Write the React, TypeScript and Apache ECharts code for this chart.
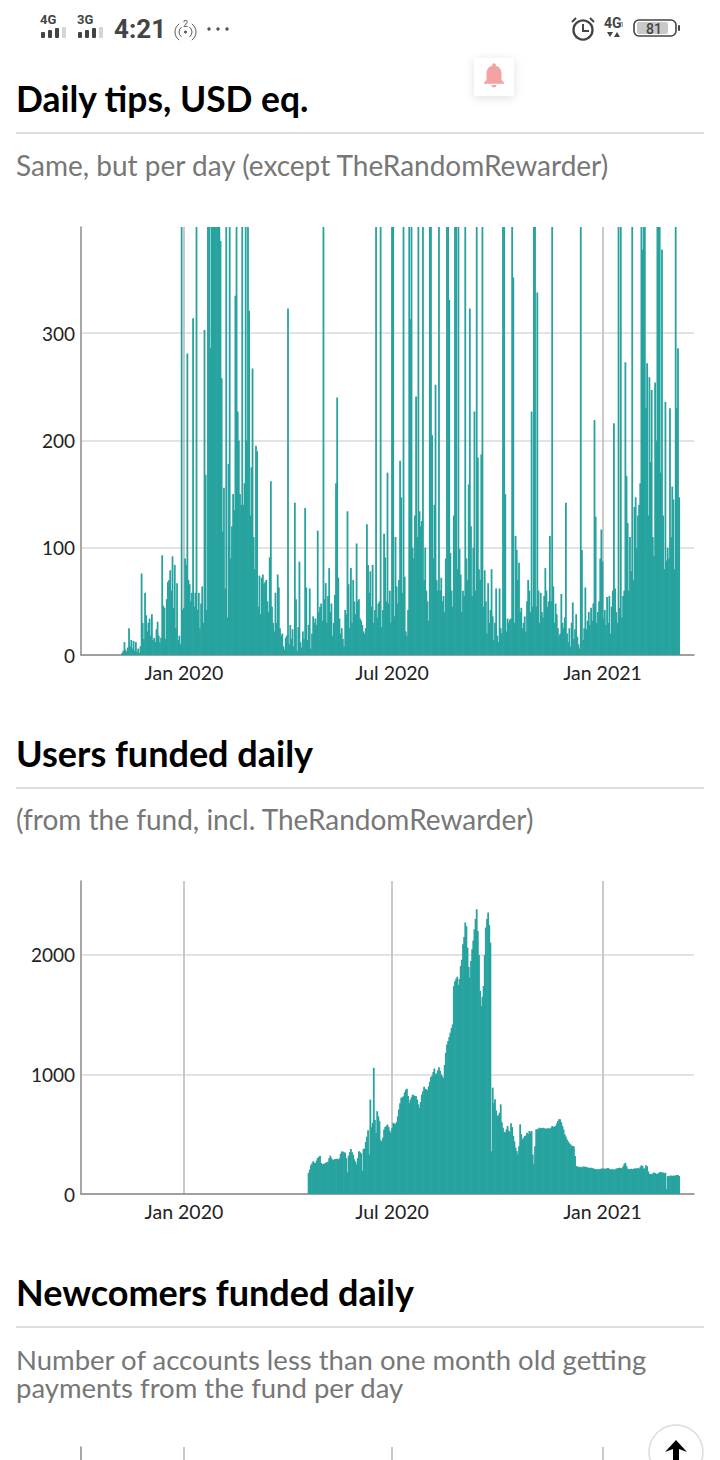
import React, { useEffect, useRef } from "react";
import * as echarts from "echarts";

const xTickDates = ["2020-01-01", "2020-07-01", "2021-01-01"];
const xTickLabels = ["Jan 2020", "Jul 2020", "Jan 2021"];
const xRange = ["2019-10-03", "2021-03-22"];
const tipsStart = "2019-11-08";
const fundedStart = "2020-04-19";

const tipsDaily = [
  2,4,12,5,3,7,25,8,14,6, 13,4,12,3,6,2,8,76,30,15, 58,37,22,30,34,18,38,14,16,12,
  24,31,18,12,16,93,46,44,15,52, 68,70,79,60,92,44,84,25,67,14, 18,10,620,42,44,90,84,281,70,66,
  50,58,314,45,58,560,42,58,25,48, 64,30,303,168,42,520,810,286,950,1300, 640,430,760,520,600,480,386,258,115,156,
  62,640,35,178,500,90,120,150,135,335, 430,227,200,150,140,620,140,160,480,200, 600,321,130,175,267,110,80,195,190,45,
  74,38,72,75,66,68,70,50,40,91, 162,45,30,22,58,30,75,63,25,18, 20,8,5,16,18,323,10,28,15,24,
  8,142,52,4,26,87,12,7,22,15, 137,63,14,28,62,6,20,36,30,34, 28,116,40,45,48,32,630,52,67,30,
  55,81,40,48,18,30,56,160,240,72, 34,20,25,15,8,42,38,134,66,25, 81,30,70,50,38,104,50,52,34,32,
  28,22,20,25,122,84,58,78,45,84, 30,42,660,35,48,50,590,26,42,113, 91,50,170,48,60,30,560,520,36,110,
  64,48,70,181,147,58,520,73,22,18, 42,560,313,450,100,90,130,241,110,610, 134,120,125,540,70,100,60,50,32,640,
  680,205,90,140,252,70,60,530,60,72, 50,55,40,90,590,620,331,95,60,45, 130,540,560,80,600,99,75,40,60,55,
  620,90,70,159,323,120,55,100,227,60, 570,184,80,70,187,650,45,79,50,20, 67,30,42,80,36,14,30,62,18,12,
  62,25,20,610,580,150,22,34,30,33, 34,600,352,30,111,98,70,86,40,44, 25,30,36,22,50,70,60,40,227,45,
  560,610,45,338,60,30,58,40,35,55, 81,60,45,50,111,50,560,64,30,48, 38,25,18,20,57,30,25,35,142,20,
  12,25,8,30,49,15,24,38,17,10, 6,620,98,14,25,63,24,32,40,28, 44,32,48,219,129,30,40,50,90,117,
  87,34,42,28,54,30,55,20,45,60, 216,62,40,30,530,44,580,35,55,60, 273,167,123,60,110,78,640,70,138,147,
  100,130,140,160,720,378,860,950,230,272, 130,259,180,247,110,92,254,200,1000,480, 700,170,378,130,80,236,88,100,90,230,
  110,157,145,80,640,230,286,147,
];

const fundedDaily = [
  176,204,240,255,274,262,260,280,302,310, 321,260,250,251,255,262,265,270,300,321,
  300,288,285,292,293,295,290,298,335,355, 355,350,345,300,181,320,350,377,350,330,
  290,270,246,300,357,350,340,195,377,380, 436,480,534,330,790,560,595,1056,620,510,
  693,650,609,450,440,470,539,560,570,581, 560,530,511,550,595,590,585,603,650,707,
  760,804,810,818,850,870,880,820,762,790, 810,832,825,820,818,790,750,720,770,832,
  860,897,880,875,869,900,940,980,990,1020, 1050,1000,1010,1035,1061,1030,1000,985,972,1080,
  1182,1250,1280,1313,1350,1390,1419,1740,1780,1800, 1818,1750,1800,1908,1960,2089,2150,2271,2240,2061,
  1900,1810,1950,2047,2120,2215,2300,2383,2201,2000, 1700,1572,1650,1740,2000,2229,2300,2355,2250,2103,
  357,890,760,792,700,653,660,680,750,600, 555,520,513,540,569,530,520,591,560,485,
  440,388,360,332,400,583,500,457,470,485, 490,513,500,527,515,527,330,248,400,541,
  541,548,555,550,552,555,550,548,545,550, 550,545,555,569,560,565,569,590,610,625,
  625,600,569,540,499,480,457,440,425,415, 405,402,398,318,234,230,229,225,228,220,
  230,228,229,225,222,220,218,220,216,214, 210,208,206,208,206,210,212,212,214,210,
  212,215,218,210,206,208,205,206,204,212, 215,218,220,218,215,230,250,262,235,212,
  208,210,212,208,210,214,215,212,218,210, 225,240,235,215,212,240,232,190,170,168,
  165,172,179,175,170,168,175,182,184,178, 180,175,178,40,150,148,152,155,150,155,
  152,156,159,158,150,
];

const BELL = "M12 22c1.1 0 2-.9 2-2h-4c0 1.1.9 2 2 2zm6-6v-5c0-3.07-1.63-5.64-4.5-6.32V4c0-.83-.67-1.5-1.5-1.5s-1.5.67-1.5 1.5v.68C7.64 5.36 6 7.92 6 11v5l-2 2v1h16v-1l-2-2z";
const UI = "Lato";
const TEAL = "#27a39f";
const DAY = 86400000;

const ms = (s: string) => Date.parse(s + "T00:00:00Z");
const toSeries = (start: string, values: number[]) => values.map((v, i) => [ms(start) + i * DAY, v]);

const title = (text: string, y: number, fontSize = 36) => ({ type: "text", x: 16, y, style: { text, fontFamily: UI, fontWeight: 700, fontSize, fill: "#000", verticalAlign: "middle" } });
const sub = (text: string, y: number, fontSize = 28) => ({ type: "text", x: 16, y, style: { text, fontFamily: UI, fontWeight: 400, fontSize, lineHeight: 28, fill: "#777", verticalAlign: "middle" } });
const rule = (y: number) => ({ type: "rect", shape: { x: 16, y: y - 1, width: 688, height: 2 }, style: { fill: "#dedede" } });

const signal = (x: number) => [0, 7, 14, 21].map((dx, i) => ({
  type: "rect",
  shape: { x: x + dx, y: 38 - [6, 8, 10, 11][i], width: 4, height: [6, 8, 10, 11][i], r: 1 },
  style: { fill: i === 3 ? "#d5d5d5" : "#444" },
}));

const hotspot = [
  { type: "arc", shape: { cx: 185, cy: 32, r: 6, startAngle: 2.2, endAngle: 4.1, clockwise: true }, style: { fill: "none", stroke: "#555", lineWidth: 1 } },
  { type: "arc", shape: { cx: 185, cy: 32, r: 10, startAngle: 2.2, endAngle: 4.1, clockwise: true }, style: { fill: "none", stroke: "#555", lineWidth: 1 } },
  { type: "arc", shape: { cx: 186, cy: 32, r: 6, startAngle: -0.95, endAngle: 0.95, clockwise: true }, style: { fill: "none", stroke: "#555", lineWidth: 1 } },
  { type: "arc", shape: { cx: 186, cy: 32, r: 10, startAngle: -0.95, endAngle: 0.95, clockwise: true }, style: { fill: "none", stroke: "#555", lineWidth: 1 } },
  { type: "circle", shape: { cx: 185.5, cy: 32, r: 1.5 }, style: { fill: "#555" } },
  { type: "text", x: 185.5, y: 24, style: { text: "2", fontFamily: "Roboto", fontSize: 9, fill: "#555", align: "center", verticalAlign: "middle" } },
];

const statusBar = [
  { type: "text", x: 40, y: 19, style: { text: "4G", fontFamily: "Roboto", fontWeight: 700, fontSize: 13, fill: "#444", verticalAlign: "middle" } },
  ...signal(41),
  { type: "text", x: 77, y: 19, style: { text: "3G", fontFamily: "Roboto", fontWeight: 700, fontSize: 13, fill: "#444", verticalAlign: "middle" } },
  ...signal(78),
  { type: "text", x: 114, y: 29, style: { text: "4:21", fontFamily: "Roboto", fontWeight: 700, fontSize: 26, fill: "#444", verticalAlign: "middle" } },
  ...hotspot,
  ...[209, 218, 227].map((cx) => ({ type: "circle", shape: { cx, cy: 29, r: 1.7 }, style: { fill: "#555" } })),
  { type: "circle", shape: { cx: 583, cy: 30, r: 9.5 }, style: { fill: "none", stroke: "#444", lineWidth: 2.4 } },
  { type: "polyline", shape: { points: [[583, 24], [583, 31], [589, 31]] }, style: { fill: "none", stroke: "#444", lineWidth: 2 } },
  { type: "line", shape: { x1: 572, y1: 22, x2: 576, y2: 18 }, style: { stroke: "#444", lineWidth: 2 } },
  { type: "line", shape: { x1: 594, y1: 22, x2: 590, y2: 18 }, style: { stroke: "#444", lineWidth: 2 } },
  { type: "text", x: 604, y: 23, style: { text: "4G", fontFamily: "Roboto", fontWeight: 700, fontSize: 14, fill: "#444", verticalAlign: "middle" } },
  { type: "text", x: 620, y: 25, style: { text: "1", fontFamily: "Roboto", fontSize: 7, fill: "#444", verticalAlign: "middle" } },
  { type: "polygon", shape: { points: [[607, 32], [613, 32], [610, 37]] }, style: { fill: "#444" } },
  { type: "polygon", shape: { points: [[614, 37], [620, 37], [617, 32]] }, style: { fill: "#444" } },
  { type: "rect", shape: { x: 634, y: 20, width: 42, height: 16, r: 5 }, style: { fill: "none", stroke: "#444", lineWidth: 1.6 } },
  { type: "rect", shape: { x: 637, y: 22, width: 31, height: 12, r: 2 }, style: { fill: "#c9c9c9" } },
  { type: "text", x: 654, y: 29, style: { text: "81", fontFamily: "Roboto", fontWeight: 500, fontSize: 14, fill: "#444", align: "center", verticalAlign: "middle" } },
  { type: "rect", shape: { x: 678, y: 25, width: 2, height: 6, r: 1 }, style: { fill: "#444" } },
];

const bellBox = [
  { type: "rect", shape: { x: 474, y: 58, width: 40, height: 38 }, style: { fill: "#fff", shadowBlur: 10, shadowColor: "rgba(0,0,0,0.12)", shadowOffsetY: 2 } },
  { type: "bell", x: 479, y: 60, scaleX: 1.25, scaleY: 1.25, style: { fill: "#f4a3a3" } },
];

const upButton = [
  { type: "circle", shape: { cx: 676, cy: 1452, r: 27 }, style: { fill: "#fff", stroke: "#dcdcdc", lineWidth: 1.5 } },
  { type: "polygon", shape: { points: [[676, 1440], [687, 1452], [679, 1449], [679, 1460], [673, 1460], [673, 1449], [665, 1452]] }, style: { fill: "#000" } },
];

const makeX = (gridIndex: number, showLabel: boolean) => ({
  type: "value",
  gridIndex,
  min: ms(xRange[0]),
  max: ms(xRange[1]),
  axisLine: { show: true, lineStyle: { color: "#8a8a8a", width: 1.5 } },
  axisTick: { show: false, customValues: xTickDates.map(ms) },
  axisLabel: {
    show: showLabel,
    customValues: xTickDates.map(ms),
    margin: 7,
    fontFamily: UI,
    fontSize: 19.5,
    color: "#222",
    formatter: (v: number) => xTickLabels[xTickDates.map(ms).indexOf(v)] ?? "",
  },
  splitLine: { show: true, lineStyle: { color: "#b9b9b9", width: 1.5 } },
});

const makeY = (gridIndex: number, max: number, interval: number, showLabel: boolean) => ({
  type: "value",
  gridIndex,
  min: 0,
  max,
  interval,
  axisLine: { show: true, lineStyle: { color: "#8a8a8a", width: 1.5 } },
  axisTick: { show: false },
  axisLabel: { show: showLabel, showMaxLabel: false, margin: 6, fontFamily: UI, fontSize: 19, color: "#222", formatter: (v: number) => String(v) },
  splitLine: { show: showLabel, showMaxLine: false, lineStyle: { color: "#dadada", width: 1.5 } },
});

export default function App() {
  const ref = useRef<HTMLDivElement>(null);
  useEffect(() => {
    document.body.style.margin = "0";
    echarts.graphic.registerShape("bell", echarts.graphic.extendPath(BELL, {}));
    const chart = echarts.init(ref.current!, undefined, { renderer: "svg" });
    chart.setOption({
      animation: false,
      backgroundColor: "#fff",
      grid: [
        { left: 81, width: 613, top: 227, height: 428 },
        { left: 81, width: 613, top: 881, height: 313 },
        { left: 81, width: 613, top: 1447, height: 300 },
      ],
      xAxis: [makeX(0, true), makeX(1, true), makeX(2, false)],
      yAxis: [makeY(0, 399, 100, true), makeY(1, 2619, 1000, true), makeY(2, 1000, 500, false)],
      series: [
        { type: "bar", xAxisIndex: 0, yAxisIndex: 0, barWidth: 1.8, clip: true, itemStyle: { color: TEAL }, data: toSeries(tipsStart, tipsDaily) },
        { type: "bar", xAxisIndex: 1, yAxisIndex: 1, barWidth: 1.8, clip: true, itemStyle: { color: TEAL }, data: toSeries(fundedStart, fundedDaily) },
      ],
      graphic: {
        elements: [
          ...statusBar,
          ...bellBox,
          title("Daily tips, USD eq.", 98, 35.4),
          rule(133),
          sub("Same, but per day (except TheRandomRewarder)", 165),
          title("Users funded daily", 753),
          rule(788),
          sub("(from the fund, incl. TheRandomRewarder)", 819),
          title("Newcomers funded daily", 1292),
          rule(1327),
          sub("Number of accounts less than one month old getting\npayments from the fund per day", 1373, 27.5),
          ...upButton,
        ],
      },
    });
    return () => chart.dispose();
  }, []);
  return <div ref={ref} style={{ position: "absolute", left: 0, top: 0, width: 720, height: 1460 }} />;
}
